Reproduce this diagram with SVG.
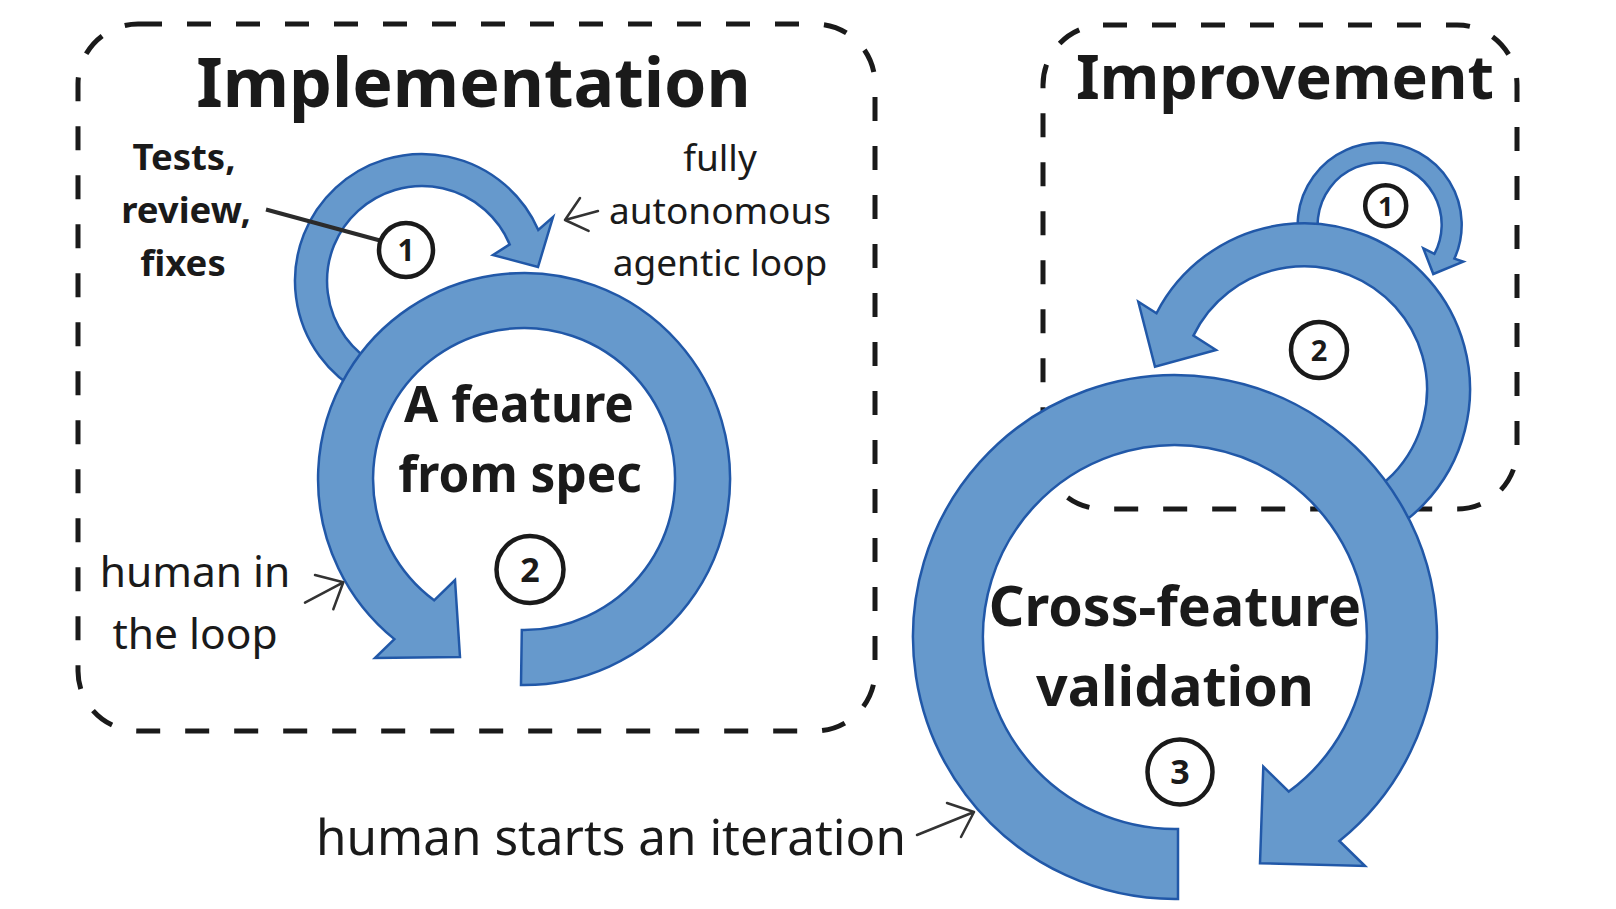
<svg xmlns="http://www.w3.org/2000/svg" width="1616" height="909" viewBox="0 0 1616 909">
<style>
.box{fill:none;stroke:#1a1a1a;stroke-width:5;stroke-dasharray:24 25}
.ring{fill:#6699cc;stroke:#2158a8;stroke-width:2.5;stroke-linejoin:miter}
.t{font-family:'Noto Sans','Open Sans','DejaVu Sans',sans-serif;fill:#1a1a1a;text-anchor:middle}
.b{font-weight:bold}
.num{fill:#fff;stroke:#1a1a1a;stroke-width:4.5}
.ptr{fill:none;stroke:#333;stroke-width:2.5;stroke-linecap:round;stroke-linejoin:round}
</style>
<rect width="1616" height="909" fill="#fff"/>
<g id="implementation-box">
<rect class="box" x="78" y="24" width="797" height="707" rx="60"/>
<text class="t b" x="473.5" y="106.5" font-size="68">Implementation</text>
</g>
<g id="improvement-box">
<rect class="box" x="1043" y="25" width="474" height="484" rx="60"/>
<text class="t b" x="1285" y="98.5" font-size="61">Improvement</text>
</g>
<g id="connectors">
<path id="impl-loop-1" class="ring" d="M362.4,393.1 A127,127 0 1 1 538.3,229.95 L553,217 L538,267 L493,255 L509.7,244.4 A95,95 0 1 0 377.4,364.9 Z"/>
<path id="impl-loop-2" class="ring" d="M521,685 A206,206 0 1 0 394.4,639.1 L375,658 L460,657 L455,580 L434.1,600.3 A151,151 0 1 1 521.8,630 Z"/>
<path id="impr-loop-1" class="ring" d="M1302.6,252.7 A82,82 0 1 1 1454.4,258.6 L1463.3,261.7 L1433.3,274 L1423.3,248.3 L1434.4,253.8 A62,62 0 1 0 1321.4,245.9 Z"/>
<path id="impr-loop-2" class="ring" d="M1360.8,545.3 A166,166 0 1 0 1156.5,313.2 L1138.3,301.7 L1155,366.7 L1216,350 L1193.4,335.6 A123,123 0 1 1 1346.1,504.9 Z"/>
<path id="impr-loop-3" class="ring" d="M1178,899 A262,262 0 1 1 1339.4,841 L1365,866 L1260,863.3 L1263.3,766.7 L1288.8,791.6 A192,192 0 1 0 1178,829 Z"/>
<line x1="266" y1="209.5" x2="380" y2="240.5" stroke="#2b2b2b" stroke-width="4"/>
<path class="ptr" d="M598,211 L565,220 M580,198 L565,220 L588.6,230.9"/>
<path class="ptr" d="M305,602.7 L343.3,582.3 M315,575 L343.3,582.3 L333.3,609.3"/>
<path class="ptr" d="M917,835 L974,812 M947,803 L974,812 L961,837"/>
</g>
<g id="node-tests">
<text class="t b" font-size="36.5"><tspan x="184" y="170">Tests,</tspan><tspan x="186" y="223">review,</tspan><tspan x="183" y="276">fixes</tspan></text>
</g>
<g id="node-autonomous">
<text class="t" font-size="37"><tspan x="720" y="171">fully</tspan><tspan x="720" y="223.5">autonomous</tspan><tspan x="720" y="276">agentic loop</tspan></text>
</g>
<g id="node-human-loop">
<text class="t" font-size="42.5"><tspan x="195" y="587">human in</tspan><tspan x="195" y="649">the loop</tspan></text>
</g>
<g id="node-human-starts">
<text class="t" x="611" y="855" font-size="49.4">human starts an iteration</text>
</g>
<g id="node-feature">
<text class="t b" font-size="49.5"><tspan x="519" y="422">A feature</tspan><tspan x="520" y="492">from spec</tspan></text>
</g>
<g id="node-cross">
<text class="t b" font-size="55.5"><tspan x="1175" y="626">Cross-feature</tspan><tspan x="1175" y="706">validation</tspan></text>
</g>
<g id="badge-impl-1">
<circle class="num" cx="406" cy="250" r="27"/>
<text class="t b" x="406" y="261" font-size="30">1</text>
</g>
<g id="badge-impl-2">
<circle class="num" cx="530" cy="569.5" r="33.5"/>
<text class="t b" x="530" y="582" font-size="34">2</text>
</g>
<g id="badge-impr-1">
<circle class="num" cx="1385.7" cy="205.7" r="20.5" stroke-width="4"/>
<text class="t b" x="1385.7" y="215.5" font-size="27">1</text>
</g>
<g id="badge-impr-2">
<circle class="num" cx="1319" cy="350" r="28"/>
<text class="t b" x="1319" y="360.5" font-size="29">2</text>
</g>
<g id="badge-impr-3">
<circle class="num" cx="1180" cy="772" r="32.5"/>
<text class="t b" x="1180" y="784" font-size="34">3</text>
</g>
</svg>
